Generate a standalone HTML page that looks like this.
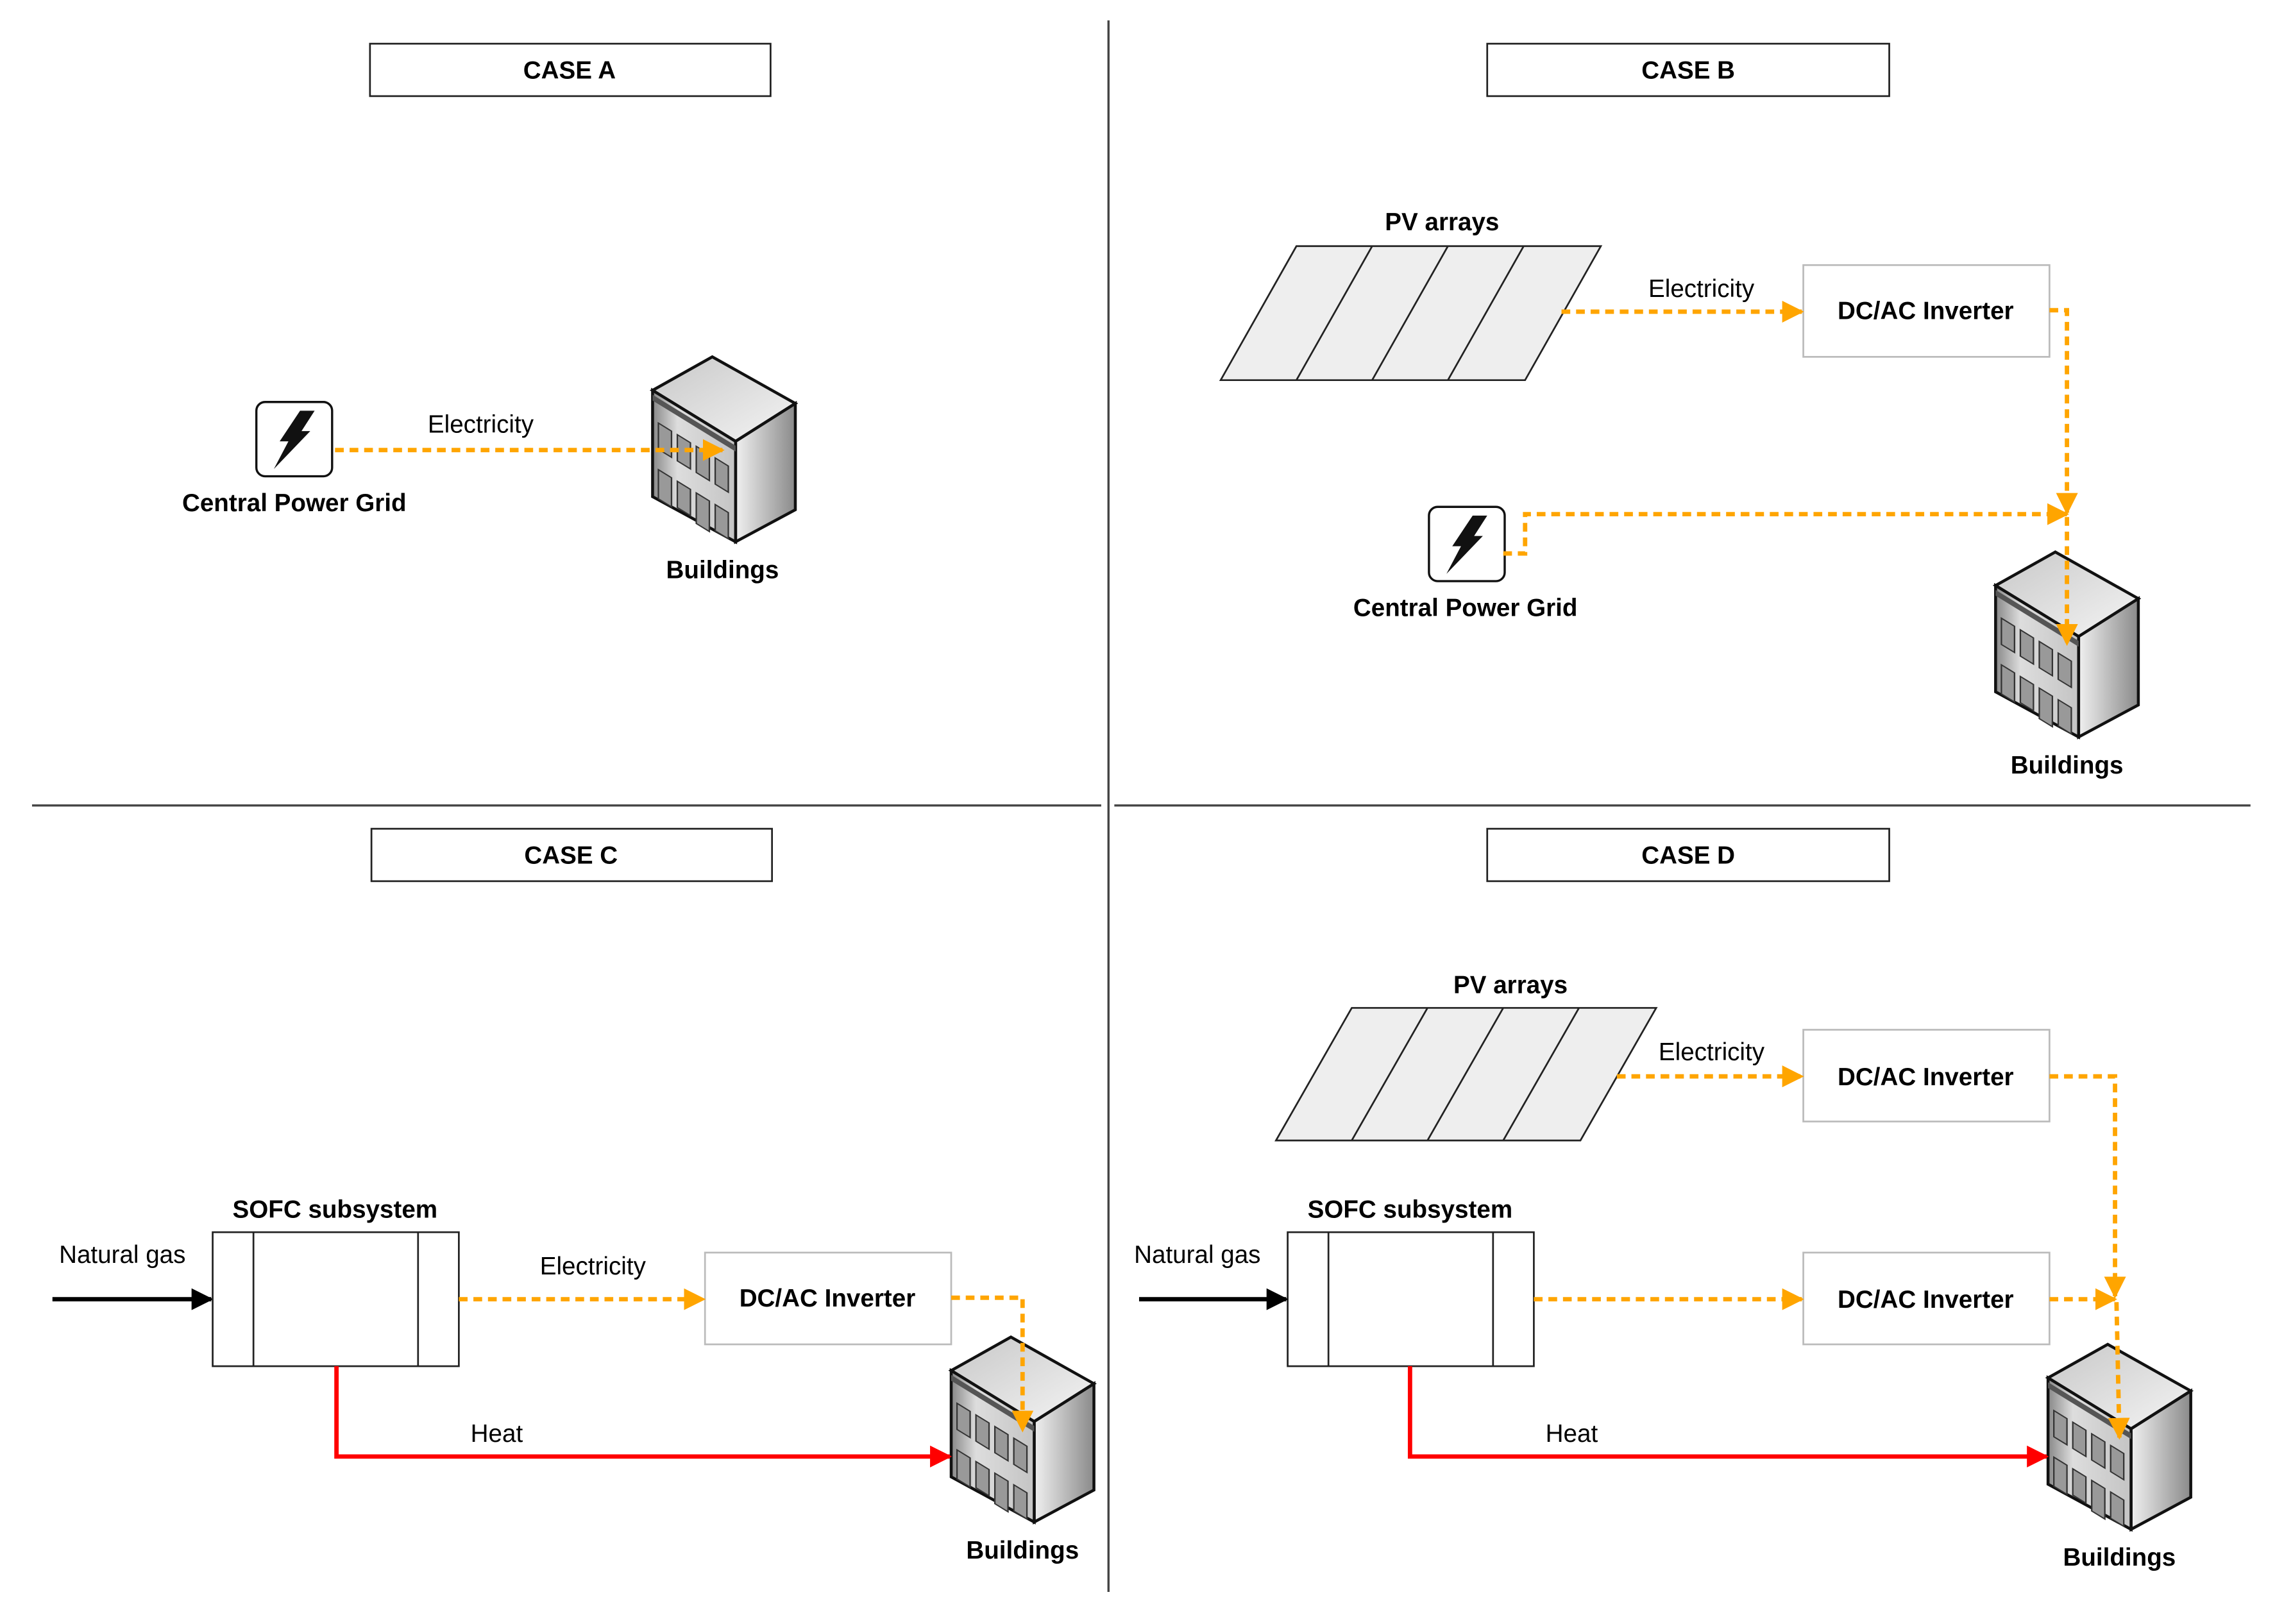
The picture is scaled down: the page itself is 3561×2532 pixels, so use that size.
<!DOCTYPE html>
<html><head><meta charset="utf-8"><style>
html,body{margin:0;padding:0;background:#fff;}
svg{display:block;}
text{font-family:"Liberation Sans",Arial,sans-serif;font-size:17px;fill:#000;text-anchor:middle;}
.b{font-weight:bold;}
</style></head><body>
<svg width="3561" height="2532" viewBox="0 0 1568 1115" preserveAspectRatio="none" xmlns="http://www.w3.org/2000/svg">
<defs>
<marker id="ao" viewBox="0 0 10 10" refX="9" refY="5" markerWidth="5" markerHeight="5" orient="auto" markerUnits="strokeWidth"><path d="M0,0L10,5L0,10z" fill="#FFA500"/></marker>
<marker id="ak" viewBox="0 0 10 10" refX="9" refY="5" markerWidth="5" markerHeight="5" orient="auto" markerUnits="strokeWidth"><path d="M0,0L10,5L0,10z" fill="#000"/></marker>
<marker id="ar" viewBox="0 0 10 10" refX="9" refY="5" markerWidth="5" markerHeight="5" orient="auto" markerUnits="strokeWidth"><path d="M0,0L10,5L0,10z" fill="#f00"/></marker>
<linearGradient id="gt" x1="0" y1="0" x2="1" y2="1"><stop offset="0" stop-color="#c8c8c8"/><stop offset="1" stop-color="#f4f4f4"/></linearGradient>
<linearGradient id="gl" x1="0" y1="0" x2="1" y2="0"><stop offset="0" stop-color="#888"/><stop offset="0.3" stop-color="#ddd"/><stop offset="1" stop-color="#c4c4c4"/></linearGradient>
<linearGradient id="gr" x1="0" y1="0" x2="1" y2="0"><stop offset="0" stop-color="#f0f0f0"/><stop offset="1" stop-color="#8a8a8a"/></linearGradient>
<g id="bld">
<path d="M0,0L57,32L16,58L-41,23z" fill="url(#gt)" stroke="#111" stroke-width="2"/>
<path d="M16,58L57,32L57,105L16,127z" fill="url(#gr)" stroke="#111" stroke-width="2"/>
<path d="M-41,23L16,58L16,127L-41,96z" fill="url(#gl)" stroke="#111" stroke-width="2"/>
<g transform="translate(-41,23) matrix(1,0.614,0,1,0,0)">
<rect x="0" y="3" width="57" height="4" fill="#555"/>
<rect x="4" y="20" width="9" height="18" fill="#999" stroke="#333"/>
<rect x="17" y="20" width="9" height="18" fill="#999" stroke="#333"/>
<rect x="30" y="20" width="9" height="18" fill="#999" stroke="#333"/>
<rect x="43" y="20" width="9" height="18" fill="#999" stroke="#333"/>
<rect x="4" y="52" width="9" height="20" fill="#999" stroke="#333"/>
<rect x="17" y="52" width="9" height="18" fill="#999" stroke="#333"/>
<rect x="30" y="52" width="9" height="21" fill="#999" stroke="#333"/>
<rect x="43" y="52" width="9" height="18" fill="#999" stroke="#333"/>
</g>
</g>
<g id="grid">
<rect x="0" y="0" width="52" height="51" rx="6" fill="#fff" stroke="#111" stroke-width="1.5"/>
<polygon points="30,6 40,6 31,20 37,20 12,46 22,27 16,27" fill="#111"/>
</g>
</defs>

<line x1="761" y1="14" x2="761" y2="1093" stroke="#444" stroke-width="1.5"/>
<line x1="22" y1="553" x2="756" y2="553" stroke="#444" stroke-width="1.5"/>
<line x1="765" y1="553" x2="1545" y2="553" stroke="#444" stroke-width="1.5"/>

<g fill="#fff" stroke="#222" stroke-width="1.2">
<rect x="254" y="30" width="275" height="36"/>
<rect x="1021" y="30" width="276" height="36"/>
<rect x="255" y="569" width="275" height="36"/>
<rect x="1021" y="569" width="276" height="36"/>
</g>
<text class="b" x="391" y="54">CASE A</text>
<text class="b" x="1159" y="54">CASE B</text>
<text class="b" x="392" y="593">CASE C</text>
<text class="b" x="1159" y="593">CASE D</text>

<use href="#grid" x="176" y="276"/>
<text class="b" x="202" y="351">Central Power Grid</text>
<use href="#bld" transform="translate(489,245)"/>
<text class="b" x="496" y="397">Buildings</text>
<text x="330" y="297">Electricity</text>
<path d="M230,309L496,309" stroke="#FFA500" stroke-width="3" stroke-dasharray="6 4" fill="none" marker-end="url(#ao)"/>

<g fill="#eee" stroke="#222" stroke-width="1.2">
<path d="M838,261L890,169L1099,169L1047,261z"/>
<path d="M942,169L890,261M994,169L942,261M1046,169L994,261" fill="none"/>
<rect x="1238" y="182" width="169" height="63" fill="#fff" stroke="#bbb"/>
</g>
<text class="b" x="990" y="158">PV arrays</text>
<text class="b" x="1322" y="219">DC/AC Inverter</text>
<text x="1168" y="204">Electricity</text>
<path d="M1072,214L1237,214" stroke="#FFA500" stroke-width="3" stroke-dasharray="6 4" fill="none" marker-end="url(#ao)"/>
<use href="#grid" x="981" y="348"/>
<text class="b" x="1006" y="423">Central Power Grid</text>
<use href="#bld" transform="translate(1411,379)"/>
<text class="b" x="1419" y="531">Buildings</text>
<path d="M1407,213L1419,213L1419,352" stroke="#FFA500" stroke-width="3" stroke-dasharray="6 4" fill="none" marker-end="url(#ao)"/>
<path d="M1032,380L1047,380L1047,353L1419,353" stroke="#FFA500" stroke-width="3" stroke-dasharray="6 4" fill="none" marker-end="url(#ao)"/>
<path d="M1419,355L1419,442" stroke="#FFA500" stroke-width="3" stroke-dasharray="6 4" fill="none" marker-end="url(#ao)"/>

<text x="84" y="867">Natural gas</text>
<path d="M36,892L145,892" stroke="#000" stroke-width="3" fill="none" marker-end="url(#ak)"/>
<g fill="#fff" stroke="#222" stroke-width="1.2">
<rect x="146" y="846" width="169" height="92"/>
<path d="M174,846L174,938M287,846L287,938"/>
<rect x="484" y="860" width="169" height="63" stroke="#bbb"/>
</g>
<text class="b" x="230" y="836">SOFC subsystem</text>
<text class="b" x="568" y="897">DC/AC Inverter</text>
<text x="407" y="875">Electricity</text>
<path d="M315,892L483,892" stroke="#FFA500" stroke-width="3" stroke-dasharray="6 4" fill="none" marker-end="url(#ao)"/>
<use href="#bld" transform="translate(694,918)"/>
<path d="M231,938L231,1000L652,1000" stroke="#f00" stroke-width="3" fill="none" marker-end="url(#ar)"/>
<text x="341" y="990">Heat</text>
<path d="M653,891L702,891L702,982" stroke="#FFA500" stroke-width="3" stroke-dasharray="6 4" fill="none" marker-end="url(#ao)"/>
<text class="b" x="702" y="1070">Buildings</text>

<g fill="#eee" stroke="#222" stroke-width="1.2">
<path d="M876,783L928,692L1137,692L1085,783z"/>
<path d="M980,692L928,783M1032,692L980,783M1084,692L1032,783" fill="none"/>
<rect x="1238" y="707" width="169" height="63" fill="#fff" stroke="#bbb"/>
<rect x="1238" y="860" width="169" height="63" fill="#fff" stroke="#bbb"/>
<rect x="884" y="846" width="169" height="92" fill="#fff"/>
<path d="M912,846L912,938M1025,846L1025,938" fill="none"/>
</g>
<text class="b" x="1037" y="682">PV arrays</text>
<text x="1175" y="728">Electricity</text>
<text class="b" x="1322" y="745">DC/AC Inverter</text>
<text class="b" x="1322" y="898">DC/AC Inverter</text>
<text class="b" x="968" y="836">SOFC subsystem</text>
<text x="822" y="867">Natural gas</text>
<path d="M782,892L883,892" stroke="#000" stroke-width="3" fill="none" marker-end="url(#ak)"/>
<path d="M1110,739L1237,739" stroke="#FFA500" stroke-width="3" stroke-dasharray="6 4" fill="none" marker-end="url(#ao)"/>
<path d="M1053,892L1237,892" stroke="#FFA500" stroke-width="3" stroke-dasharray="6 4" fill="none" marker-end="url(#ao)"/>
<use href="#bld" transform="translate(1447,923)"/>
<path d="M1407,739L1452,739L1452,890" stroke="#FFA500" stroke-width="3" stroke-dasharray="6 4" fill="none" marker-end="url(#ao)"/>
<path d="M1407,892L1452,892" stroke="#FFA500" stroke-width="3" stroke-dasharray="6 4" fill="none" marker-end="url(#ao)"/>
<path d="M1453,894L1455,987" stroke="#FFA500" stroke-width="3" stroke-dasharray="6 4" fill="none" marker-end="url(#ao)"/>
<path d="M968,938L968,1000L1405,1000" stroke="#f00" stroke-width="3" fill="none" marker-end="url(#ar)"/>
<text x="1079" y="990">Heat</text>
<text class="b" x="1455" y="1075">Buildings</text>
</svg>
</body></html>
